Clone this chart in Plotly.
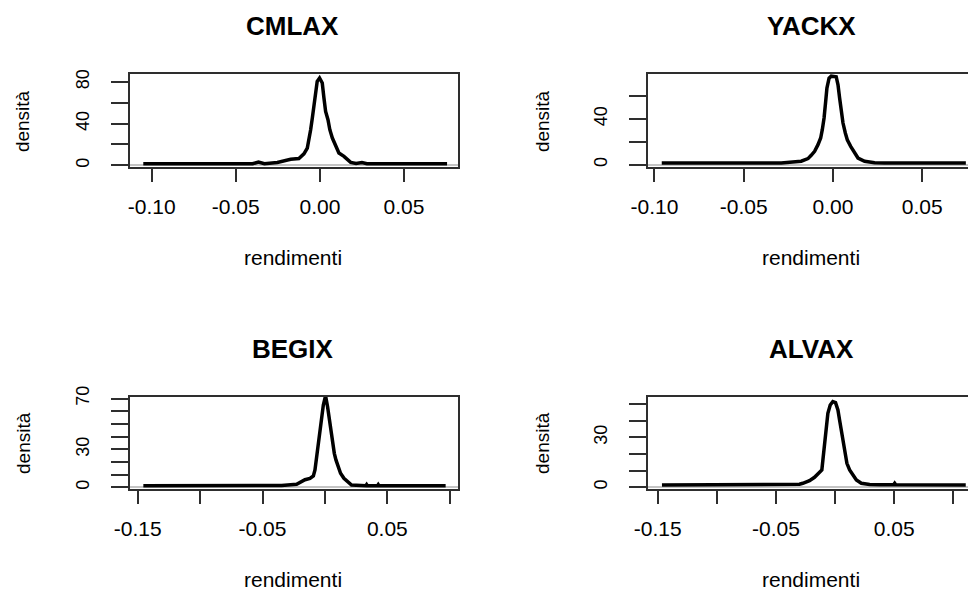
import plotly.graph_objects as go

W, H = 968, 592

# ---------------- data ----------------
titles = ["CMLAX", "YACKX", "BEGIX", "ALVAX"]
x_label = "rendimenti"
y_label = "densità"

cmlax_x = [-0.105, -0.040, -0.0365, -0.033, -0.0253, -0.0174, -0.0125, -0.0095, -0.0075,
           -0.0065, -0.0055, -0.0045, -0.0036, -0.0026, -0.0016, -0.0002, 0.0014, 0.0024,
           0.0034, 0.0048, 0.0059, 0.0074, 0.0093, 0.0113, 0.0143, 0.0163, 0.0183, 0.0215,
           0.025, 0.028, 0.0756]
cmlax_y = [1.5, 1.5, 3.2, 1.6, 2.8, 5.8, 6.6, 11.0, 16.6, 24.6, 34.2, 45.4, 58.2, 71.1,
           80.7, 83.9, 79.1, 64.7, 51.8, 43.8, 34.2, 26.2, 18.2, 11.8, 8.6, 5.4, 2.8, 1.7,
           2.6, 1.6, 1.5]

yackx_x = [-0.0959, -0.029, -0.0178, -0.016, -0.014, -0.0122, -0.0103, -0.0084, -0.0069,
           -0.0060, -0.0050, -0.0041, -0.0034, -0.0022, -0.0010, 0.0018, 0.0028, 0.0037,
           0.0047, 0.0056, 0.0069, 0.0080, 0.0099, 0.0121, 0.0140, 0.0177, 0.0233, 0.0289,
           0.0744]
yackx_y = [1.5, 1.6, 3.1, 4.0, 5.4, 8.3, 11.8, 17.6, 23.4, 30.7, 40.9, 55.5, 67.1, 75.8,
           77.5, 77.0, 70.0, 58.4, 46.7, 36.5, 27.8, 21.9, 16.1, 10.3, 5.9, 3.1, 1.8, 1.6,
           1.5]

begix_x = [-0.1455, -0.0347, -0.0227, -0.0200, -0.0160, -0.0120, -0.0093, -0.0080, -0.0067,
           -0.0053, -0.0040, -0.0027, -0.0013, 0.0000, 0.0008, 0.0021, 0.0035, 0.0048,
           0.0061, 0.0075, 0.0088, 0.0107, 0.0125, 0.0152, 0.0187, 0.0213, 0.0328, 0.0334,
           0.0340, 0.0421, 0.0427, 0.0433, 0.0967]
begix_y = [1.4, 1.5, 2.5, 3.8, 6.1, 7.2, 9.1, 13.8, 24.3, 34.8, 45.3, 55.7, 64.9, 70.2,
           70.5, 63.6, 53.1, 43.9, 34.8, 26.9, 21.7, 16.4, 11.2, 7.2, 3.8, 1.9, 1.4, 2.3,
           1.4, 1.4, 2.3, 1.4, 1.4]

alvax_x = [-0.1464, -0.0428, -0.0301, -0.0273, -0.0216, -0.0174, -0.0137, -0.0112, -0.0103,
           -0.0089, -0.0075, -0.0061, -0.0041, -0.0019, 0.0004, 0.0024, 0.0038, 0.0052,
           0.0066, 0.0080, 0.0100, 0.0123, 0.0151, 0.0180, 0.0222, 0.0292, 0.0377, 0.0495,
           0.0504, 0.0513, 0.1105]
alvax_y = [1.4, 1.4, 1.8, 2.4, 4.0, 6.0, 8.4, 10.4, 16.4, 26.5, 36.5, 44.6, 49.6, 51.6,
           51.0, 46.6, 40.5, 34.5, 28.5, 21.5, 14.4, 10.4, 7.4, 4.4, 2.4, 1.6, 1.5, 1.5,
           2.4, 1.5, 1.4]

xs = [cmlax_x, yackx_x, begix_x, alvax_x]
ys = [cmlax_y, yackx_y, begix_y, alvax_y]

x_tickvals = [[-0.10, -0.05, 0.00, 0.05], [-0.10, -0.05, 0.00, 0.05],
              [-0.15, -0.10, -0.05, 0.00, 0.05, 0.10], [-0.15, -0.10, -0.05, 0.00, 0.05, 0.10]]
x_ticktext = [["-0.10", "-0.05", "0.00", "0.05"], ["-0.10", "-0.05", "0.00", "0.05"],
              ["-0.15", "", "-0.05", "", "0.05", ""], ["-0.15", "", "-0.05", "", "0.05", ""]]
y_tickvals = [[0, 20, 40, 60, 80], [0, 20, 40, 60],
              [0, 10, 20, 30, 40, 50, 60, 70], [0, 10, 20, 30, 40, 50]]
y_ticktext = [["0", "", "40", "", "80"], ["0", "", "40", ""],
              ["0", "", "", "30", "", "", "", "70"], ["0", "", "", "30", "", ""]]

# ---------------- layout geometry (pixels) ----------------
# box: left, right, top, bottom
boxes = [(130, 458, 74, 167.4), (648, 968, 74, 167.4),
         (130, 458, 396.5, 489.4), (648, 968, 396.5, 489.4)]
x_ranges = [(-0.1129, 0.0821), (-0.1036, 0.0756), (-0.1562, 0.1066), (-0.1582, 0.1124)]
y_ranges = [(-2.0, 87.7), (-2.3, 79.4), (-1.5, 71.6), (-1.3, 54.7)]
right_border = [True, False, True, False]
title_pos = [(292, 26), (811.5, 26), (293, 348.5), (811.5, 348.5)]
xlab_pos = [(293, 257.5), (810.7, 257.5), (293, 579.5), (810.7, 579.5)]
ylab_pos = [(23.3, 120.8), (542.3, 120.8), (23.3, 442.7), (542.3, 442.7)]

FONT = "Liberation Sans, Arial, sans-serif"
AX = "#2e2e2e"

fig = go.Figure()
layout = dict(width=W, height=H,
              margin=dict(l=0, r=0, t=0, b=0, pad=0, autoexpand=False),
              plot_bgcolor="white", paper_bgcolor="white", showlegend=False,
              font=dict(family=FONT, color="black"))
annotations = []

for i in range(4):
    n = "" if i == 0 else str(i + 1)
    L, R, T, B = boxes[i]
    fig.add_trace(go.Scatter(x=xs[i], y=ys[i], mode="lines",
                             line=dict(color="black", width=3.5),
                             xaxis="x" + n, yaxis="y" + n, hoverinfo="skip"))
    layout["xaxis" + n] = dict(
        domain=[L / W, R / W], range=list(x_ranges[i]), anchor="y" + n,
        showline=True, linecolor=AX, linewidth=1.6, mirror=True,
        ticks="outside", ticklen=13, tickwidth=1.8, tickcolor=AX,
        tickmode="array", tickvals=x_tickvals[i], ticktext=x_ticktext[i],
        tickfont=dict(size=21, family=FONT, color="black"),
        ticklabelstandoff=7, automargin=False,
        showgrid=False, zeroline=False, fixedrange=True)
    layout["yaxis" + n] = dict(
        domain=[1 - B / H, 1 - T / H], range=list(y_ranges[i]), anchor="x" + n,
        showline=True, linecolor=AX, linewidth=1.6, mirror=right_border[i],
        ticks="outside", ticklen=17, tickwidth=1.8, tickcolor=AX,
        tickmode="array", tickvals=y_tickvals[i], ticktext=y_ticktext[i],
        tickangle=-90, tickfont=dict(size=18, family=FONT, color="black"),
        ticklabelstandoff=15, automargin=False,
        showgrid=False, zeroline=True, zerolinecolor="#c4c4c4", zerolinewidth=1.5,
        fixedrange=True)
    tx, ty = title_pos[i]
    annotations.append(dict(text="<b>" + titles[i] + "</b>", x=tx / W, y=1 - ty / H,
                            xref="paper", yref="paper", showarrow=False,
                            xanchor="center", yanchor="middle",
                            font=dict(size=26, family=FONT, color="black")))
    lx, ly = xlab_pos[i]
    annotations.append(dict(text=x_label, x=lx / W, y=1 - ly / H,
                            xref="paper", yref="paper", showarrow=False,
                            xanchor="center", yanchor="middle",
                            font=dict(size=21, family=FONT, color="black")))
    yx, yy = ylab_pos[i]
    annotations.append(dict(text=y_label, x=yx / W, y=1 - yy / H, textangle=-90,
                            xref="paper", yref="paper", showarrow=False,
                            xanchor="center", yanchor="middle",
                            font=dict(size=19, family=FONT, color="black")))

layout["annotations"] = annotations
fig.update_layout(**layout)
fig.write_html("out.html")
